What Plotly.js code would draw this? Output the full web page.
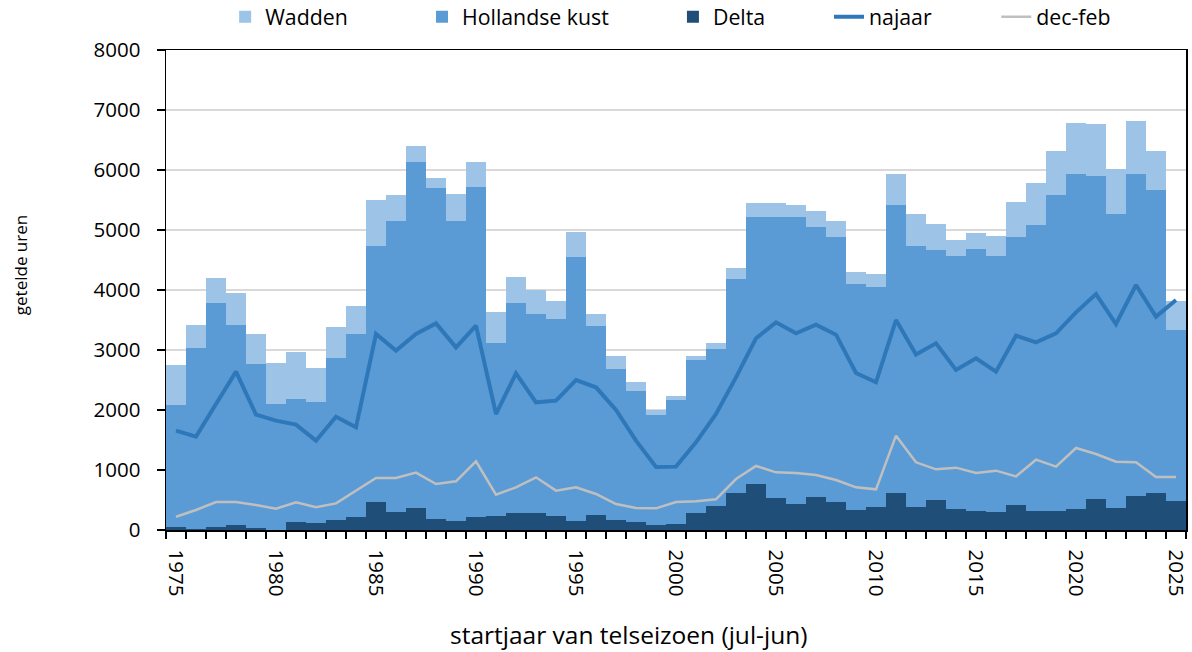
<!DOCTYPE html>
<html>
<head>
<meta charset="utf-8">
<script src="https://cdn.plot.ly/plotly-3.0.1.min.js"></script>
<style>
    html, body { margin: 0; padding: 0; background: #fff; }
    #chart { width: 1192px; height: 652px; }
</style>
</head>
<body>
<div id="chart"></div>
<script>
// startjaar van telseizoen (jul-jun)
const YEARS = [
    1975, 1976, 1977, 1978, 1979, 1980, 1981, 1982, 1983, 1984,
    1985, 1986, 1987, 1988, 1989, 1990, 1991, 1992, 1993, 1994,
    1995, 1996, 1997, 1998, 1999, 2000, 2001, 2002, 2003, 2004,
    2005, 2006, 2007, 2008, 2009, 2010, 2011, 2012, 2013, 2014,
    2015, 2016, 2017, 2018, 2019, 2020, 2021, 2022, 2023, 2024,
    2025,
];

// getelde uren per regio (gestapeld)
const DELTA = [
    44, 10, 44, 83, 28, 5, 128, 111, 172, 211,
    461, 294, 367, 183, 156, 211, 228, 289, 289, 239,
    156, 244, 172, 128, 89, 100, 278, 400, 611, 761,
    533, 433, 544, 461, 328, 378, 611, 378, 500, 344,
    311, 300, 422, 322, 311, 344, 522, 361, 561, 622,
    478,
];

const HOLLANDSE_KUST = [
    2045, 3029, 3745, 3328, 2733, 2101, 2061, 2017, 2689, 3050,
    4267, 4851, 5772, 5511, 4989, 5500, 2883, 3500, 3311, 3272,
    4388, 3150, 2511, 2183, 1833, 2067, 2555, 2611, 3567, 4450,
    4689, 4778, 4500, 4428, 3766, 3666, 4811, 4350, 4172, 4217,
    4367, 4261, 4456, 4756, 5267, 5595, 5384, 4900, 5378, 5050,
    2855,
];

const WADDEN = [
    661, 383, 417, 533, 506, 683, 778, 572, 522, 467,
    778, 444, 267, 167, 455, 428, 517, 433, 400, 300,
    428, 206, 223, 156, 78, 66, 67, 111, 183, 239,
    222, 206, 267, 267, 200, 223, 517, 539, 434, 278,
    266, 345, 589, 700, 744, 844, 866, 756, 872, 650,
    489,
];

// seizoenstotalen als lijnen
const NAJAAR = [
    1656, 1556, 2100, 2639, 1922, 1822, 1756, 1489, 1889, 1711,
    3267, 2989, 3267, 3444, 3044, 3406, 1933, 2611, 2128, 2156,
    2500, 2378, 2000, 1489, 1050, 1056, 1461, 1933, 2544, 3194,
    3461, 3278, 3422, 3256, 2617, 2461, 3500, 2925, 3111, 2667,
    2861, 2639, 3239, 3128, 3278, 3628, 3933, 3433, 4083, 3556,
    3833,
];

const DEC_FEB = [
    220, 333, 467, 467, 417, 356, 461, 378, 444, 656,
    867, 867, 956, 767, 811, 1144, 589, 711, 878, 656,
    711, 600, 433, 367, 361, 467, 478, 511, 850, 1067,
    961, 950, 917, 833, 711, 678, 1572, 1128, 1011, 1039,
    950, 989, 894, 1172, 1056, 1367, 1267, 1139, 1128, 883,
    883,
];

const FONT = '"Open Sans", "Noto Sans", sans-serif';

function barTrace(name, values, color, legendId) {
    return {
        type: 'bar',
        name,
        x: YEARS,
        y: values,
        marker: { color, line: { width: 0 } },
        legend: legendId,
        hovertemplate: `${name} %{x}: %{y}<extra></extra>`,
    };
}

function lineTrace(name, values, color, width, legendId) {
    return {
        type: 'scatter',
        mode: 'lines',
        name,
        x: YEARS,
        y: values,
        line: { color, width },
        legend: legendId,
        hovertemplate: `${name} %{x}: %{y}<extra></extra>`,
    };
}

const traces = [
    barTrace('Delta', DELTA, '#1F4E79', 'legend3'),
    barTrace('Hollandse kust', HOLLANDSE_KUST, '#5B9BD5', 'legend2'),
    barTrace('Wadden', WADDEN, '#9DC3E6', 'legend'),
    lineTrace('najaar', NAJAAR, '#2E78BA', 4, 'legend4'),
    lineTrace('dec-feb', DEC_FEB, '#BFBFBF', 2.5, 'legend5'),
];

// one legend per entry so each can sit where the original puts it
function legendAt(x) {
    return {
        x,
        y: 0.974,
        xref: 'paper',
        yref: 'container',
        xanchor: 'left',
        yanchor: 'middle',
        orientation: 'h',
        bgcolor: 'rgba(0,0,0,0)',
        font: { family: FONT, size: 21.3, color: '#000' },
    };
}

const layout = {
    width: 1192,
    height: 652,
    margin: { t: 50, r: 6, b: 122, l: 166 },
    paper_bgcolor: '#fff',
    plot_bgcolor: '#fff',
    font: { family: FONT, color: '#000' },
    barmode: 'stack',
    bargap: 0,
    showlegend: true,
    legend: legendAt(0.058),
    legend2: legendAt(0.251),
    legend3: legendAt(0.497),
    legend4: legendAt(0.650),
    legend5: legendAt(0.814),
    xaxis: {
        range: [1974.5, 2025.5],
        tick0: 1975,
        dtick: 5,
        ticks: '',
        tickangle: 90,
        ticklabelstandoff: 14,
        tickfont: { family: FONT, size: 20.5, color: '#000' },
        showgrid: false,
        zeroline: false,
        showline: true,
        linecolor: '#000',
        linewidth: 1.5,
        mirror: true,
        minor: {
            ticks: 'outside',
            tick0: 1974.5,
            dtick: 1,
            ticklen: 7,
            tickwidth: 1.5,
            tickcolor: '#000',
            showgrid: false,
        },
    },
    yaxis: {
        range: [0, 8000],
        dtick: 1000,
        ticks: 'outside',
        ticklen: 8,
        tickwidth: 1.5,
        tickcolor: '#000',
        ticklabelstandoff: 12,
        tickfont: { family: FONT, size: 20.5, color: '#000' },
        showgrid: true,
        gridcolor: '#D9D9D9',
        gridwidth: 1.5,
        zeroline: false,
        showline: true,
        linecolor: '#000',
        linewidth: 1.5,
        mirror: true,
    },
    annotations: [
        {
            text: 'startjaar van telseizoen (jul-jun)',
            xref: 'paper',
            yref: 'paper',
            x: 0.453,
            y: -0.217,
            xanchor: 'center',
            yanchor: 'middle',
            showarrow: false,
            font: { family: FONT, size: 24.5, color: '#000' },
        },
        {
            text: 'getelde uren',
            xref: 'paper',
            yref: 'paper',
            x: -0.143,
            y: 0.552,
            xanchor: 'center',
            yanchor: 'middle',
            textangle: -90,
            showarrow: false,
            font: { family: FONT, size: 17, color: '#000' },
        },
    ],
};

Plotly.newPlot('chart', traces, layout, { displayModeBar: false, staticPlot: true });
</script>
</body>
</html>
